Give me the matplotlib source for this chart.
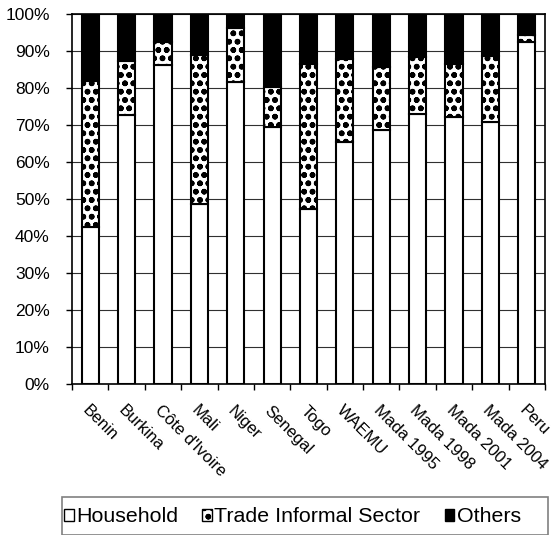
import matplotlib
matplotlib.use("Agg")
import matplotlib.pyplot as plt
from matplotlib.patches import Patch, Rectangle
from matplotlib.ticker import FixedLocator, PercentFormatter
import numpy as np

plt.rcParams['font.family'] = ['Liberation Sans', 'DejaVu Sans']
plt.rcParams['hatch.linewidth'] = 1.7

# shares in percent
countries = ['Benin', 'Burkina', "Côte d'Ivoire", 'Mali', 'Niger', 'Senegal', 'Togo',
             'WAEMU', 'Mada 1995', 'Mada 1998', 'Mada 2001', 'Mada 2004', 'Peru']
household = [42.5, 72.6, 86.3, 48.6, 81.6, 69.6, 47.3, 65.3, 68.7, 73.0, 72.3, 70.9, 92.6]
trade = [39.3, 14.8, 6.3, 40.4, 14.7, 10.7, 39.2, 22.6, 17.0, 15.4, 14.3, 17.9, 1.8]
others = [18.2, 12.6, 7.4, 11.0, 3.7, 19.7, 13.5, 12.1, 14.3, 11.6, 13.4, 11.2, 5.6]

fig = plt.figure(figsize=(5.51, 5.35), dpi=100)
ax = fig.add_axes([72/551, 1-383.5/535, (545-72)/551, (383.5-14.3)/535])

x = np.arange(len(countries))
h = np.array(household)
t = np.array(trade)
o = np.array(others)
w = 0.47
ax.bar(x, h, w, color='white', edgecolor='black', linewidth=1.5, zorder=3)
ax.bar(x, t, w, bottom=h, color='white', edgecolor='black', hatch='oo', linewidth=1.5, zorder=3)
ax.bar(x, o, w, bottom=h+t, color='black', edgecolor='black', linewidth=1.5, zorder=3)

ax.set_xlim(-0.5, len(countries)-0.5)
ax.set_ylim(0, 100)
ax.set_yticks(np.arange(0, 101, 10))
ax.yaxis.set_major_formatter(PercentFormatter(decimals=0))
ax.grid(axis='y', color='#303030', linewidth=0.8, zorder=0)

ax.set_xticks(x)
ax.set_xticklabels(countries, rotation=-45, ha='left', va='top', rotation_mode='anchor')
ax.xaxis.set_minor_locator(FixedLocator(np.arange(-0.5, len(countries), 1)))
ax.tick_params(axis='x', which='major', length=0, pad=14, labelsize=12)
ax.tick_params(axis='x', which='minor', length=4, width=1, direction='out')
ax.tick_params(axis='y', length=4, width=1, pad=12, labelsize=12.5)
for s in ax.spines.values():
    s.set_linewidth(1.2)

# legend frame drawn by hand, legend itself without frame
fig.patches.append(Rectangle((62/551, 0), (548-62)/551, 1-497/535, transform=fig.transFigure,
                             facecolor='none', edgecolor='#808080', linewidth=1.2))
handles = [Patch(facecolor='white', edgecolor='black', label='Household'),
           Patch(facecolor='white', edgecolor='black', hatch='oo', label='Trade Informal Sector'),
           Patch(facecolor='black', edgecolor='black', label='Others')]
fig.legend(handles=handles, loc='center left', bbox_to_anchor=(64/551, 1-517/535),
           ncol=3, fontsize=15.4, frameon=False, handlelength=0.45, handleheight=0.45,
           handletextpad=0.1, columnspacing=1.15, borderpad=0, borderaxespad=0)

fig.savefig('out.png', dpi=100)
